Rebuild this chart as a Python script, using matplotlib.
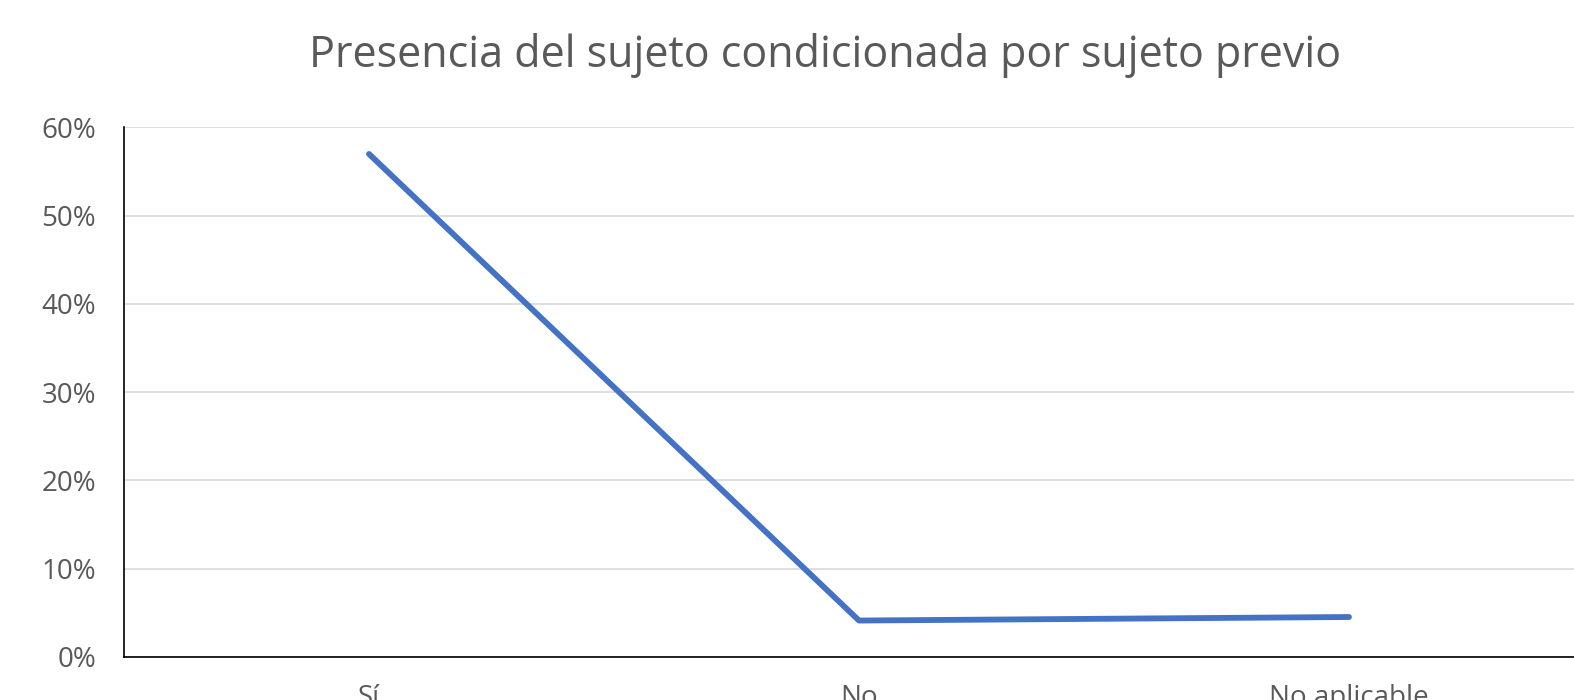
import matplotlib
matplotlib.use("Agg")
import matplotlib.pyplot as plt
from matplotlib.ticker import PercentFormatter

categorias = ["Sí", "No", "No aplicable"]
valores = [57.0, 4.1, 4.5]
titulo = "Presencia del sujeto condicionada por sujeto previo"

plt.rcParams['font.family'] = ['Open Sans', 'DejaVu Sans']

fig = plt.figure(figsize=(15.74, 7.0), dpi=100)
ax = fig.add_axes([124 / 1574, 1 - 656.7 / 700, 1 - 124 / 1574, (656.7 - 127.5) / 700])

x = list(range(len(categorias)))
ax.plot(x, valores, color='#4472C4', linewidth=4.2, solid_capstyle='round', zorder=3)

ax.set_ylim(0, 60)
ax.set_xlim(-0.5, -0.5 + (1574 - 124) / 490)
ax.set_yticks([0, 10, 20, 30, 40, 50, 60])
ax.yaxis.set_major_formatter(PercentFormatter(decimals=0))
ax.set_xticks(x)
ax.set_xticklabels(categorias)

ax.grid(axis='y', color='#d9d9d9', linewidth=1.2)
ax.set_axisbelow(True)
for s in ['top', 'right']:
    ax.spines[s].set_visible(False)
ax.spines['left'].set_color('black')
ax.spines['bottom'].set_color('black')
ax.spines['left'].set_linewidth(1.2)
ax.spines['bottom'].set_linewidth(1.2)

ax.tick_params(axis='y', length=0, pad=20, labelsize=20, labelcolor='#595959')
ax.tick_params(axis='x', length=0, pad=20, labelsize=20, labelcolor='#595959')

fig.text(0.524, 0.921, titulo, ha='center', va='center', fontsize=31, color='#595959')

fig.savefig("out.png", dpi=100)
